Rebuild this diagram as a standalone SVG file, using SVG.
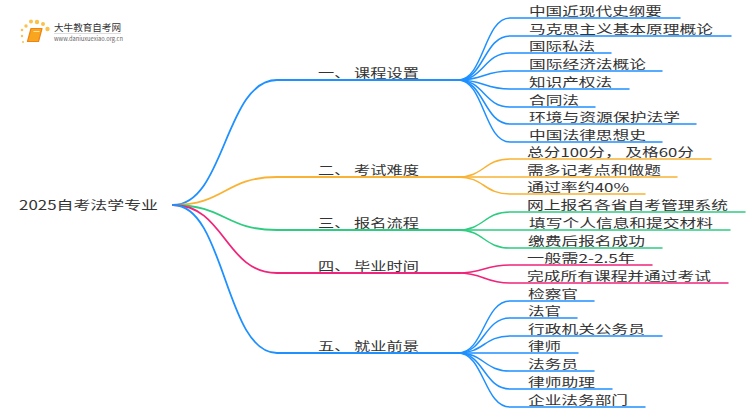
<svg xmlns="http://www.w3.org/2000/svg" width="750" height="410" viewBox="0 0 750 410">
<style>
text{font-family:"Noto Sans CJK SC","Liberation Sans",sans-serif;fill:#333;font-size:12px}
.c path{fill:none;stroke-linecap:round}
.m{stroke-width:1.8}
.l{stroke-width:1.5}
.b{stroke:#1e90ff}.o{stroke:#f9b233}.g{stroke:#2ecc80}.p{stroke:#f0247a}
</style>
<rect width="750" height="410" fill="#fff"/>
<g id="connectors" class="c">
<path class="m b" d="M173 205C225 205 225 80 277 80H460"/>
<path class="m o" d="M173 205C225 205 225 177 277 177H460"/>
<path class="m g" d="M173 205C225 205 225 230 277 230H460"/>
<path class="m p" d="M173 205C225 205 225 273 277 273H460"/>
<path class="m b" d="M173 205C225 205 225 353 277 353H460"/>
<path class="l b" d="M458 80C484 80 484 18 510 18H680"/>
<path class="l b" d="M458 80C484 80 484 36 510 36H731"/>
<path class="l b" d="M458 80C484 80 484 53 510 53H611"/>
<path class="l b" d="M458 80C484 80 484 71 510 71H662"/>
<path class="l b" d="M458 80C484 80 484 89 510 89H629"/>
<path class="l b" d="M458 80C484 80 484 107 510 107H595"/>
<path class="l b" d="M458 80C484 80 484 124 510 124H696"/>
<path class="l b" d="M458 80C484 80 484 142 510 142H662"/>
<path class="l o" d="M458 177C484 177 484 159 510 159H711"/>
<path class="l o" d="M458 177H677"/>
<path class="l o" d="M458 177C484 177 484 194 510 194H645"/>
<path class="l g" d="M458 230C484 230 484 212 510 212H745"/>
<path class="l g" d="M458 230H730"/>
<path class="l g" d="M458 230C484 230 484 248 510 248H662"/>
<path class="l p" d="M458 273C484 273 484 265 510 265H652"/>
<path class="l p" d="M458 273C484 273 484 283 510 283H728"/>
<path class="l b" d="M458 353C484 353 484 301 510 301H594"/>
<path class="l b" d="M458 353C484 353 484 318 510 318H577"/>
<path class="l b" d="M458 353C484 353 484 336 510 336H662"/>
<path class="l b" d="M458 353H578"/>
<path class="l b" d="M458 353C484 353 484 371 510 371H594"/>
<path class="l b" d="M458 353C484 353 484 389 510 389H612"/>
<path class="l b" d="M458 353C484 353 484 407 510 407H645"/>
</g>
<g id="logo">
<g fill="#fbc14a"><circle cx="37" cy="22" r="2.2"/><circle cx="31" cy="21.500" r="2"/><circle cx="43" cy="24" r="2"/><circle cx="47.500" cy="29" r="2.200"/><circle cx="26" cy="26" r="1.700"/><circle cx="22" cy="30" r="1.300"/><circle cx="22" cy="36" r="1.200"/><circle cx="23" cy="42" r="1"/></g>
<path d="M31 28.500H42L38.500 41.500H27.500Z" fill="#f8a51f" stroke="#ee8413" stroke-width="1.200" stroke-linejoin="round"/>
<path d="M33.500 31.500H39.500" stroke="#fde3a8" stroke-width="1"/>
<text x="54" y="31" textLength="67" lengthAdjust="spacingAndGlyphs" style="font-size:9.500px">大牛教育自考网</text>
<path d="M54 33.500H121" stroke="#ddd" stroke-width="1"/>
<text x="54" y="41" textLength="69" lengthAdjust="spacingAndGlyphs" style="font-size:6px;fill:#666">www.daniuxuexiao.org.cn</text>
</g>
<g id="root"><text x="19" y="210" textLength="139" lengthAdjust="spacingAndGlyphs" style="font-size:12.500px">2025自考法学专业</text></g>
<g id="n1"><text x="318" y="78" textLength="101" lengthAdjust="spacingAndGlyphs">一、 课程设置</text></g>
<g id="n2"><text x="318" y="175" textLength="101" lengthAdjust="spacingAndGlyphs">二、 考试难度</text></g>
<g id="n3"><text x="318" y="228" textLength="101" lengthAdjust="spacingAndGlyphs">三、 报名流程</text></g>
<g id="n4"><text x="318" y="271" textLength="101" lengthAdjust="spacingAndGlyphs">四、 毕业时间</text></g>
<g id="n5"><text x="318" y="351" textLength="101" lengthAdjust="spacingAndGlyphs">五、 就业前景</text></g>
<g id="n1-1"><text x="529" y="16" textLength="133" lengthAdjust="spacingAndGlyphs">中国近现代史纲要</text></g>
<g id="n1-2"><text x="529" y="34" textLength="184" lengthAdjust="spacingAndGlyphs">马克思主义基本原理概论</text></g>
<g id="n1-3"><text x="529" y="51" textLength="66" lengthAdjust="spacingAndGlyphs">国际私法</text></g>
<g id="n1-4"><text x="529" y="69" textLength="117" lengthAdjust="spacingAndGlyphs">国际经济法概论</text></g>
<g id="n1-5"><text x="529" y="87" textLength="83" lengthAdjust="spacingAndGlyphs">知识产权法</text></g>
<g id="n1-6"><text x="529" y="105" textLength="50" lengthAdjust="spacingAndGlyphs">合同法</text></g>
<g id="n1-7"><text x="529" y="122" textLength="151" lengthAdjust="spacingAndGlyphs">环境与资源保护法学</text></g>
<g id="n1-8"><text x="529" y="140" textLength="117" lengthAdjust="spacingAndGlyphs">中国法律思想史</text></g>
<g id="n2-1"><text x="527" y="157" textLength="167" lengthAdjust="spacingAndGlyphs">总分100分， 及格60分</text></g>
<g id="n2-2"><text x="527" y="175" textLength="134" lengthAdjust="spacingAndGlyphs">需多记考点和做题</text></g>
<g id="n2-3"><text x="527" y="192" textLength="102" lengthAdjust="spacingAndGlyphs">通过率约40%</text></g>
<g id="n3-1"><text x="527" y="210" textLength="201" lengthAdjust="spacingAndGlyphs">网上报名各省自考管理系统</text></g>
<g id="n3-2"><text x="529" y="228" textLength="184" lengthAdjust="spacingAndGlyphs">填写个人信息和提交材料</text></g>
<g id="n3-3"><text x="528" y="246" textLength="117" lengthAdjust="spacingAndGlyphs">缴费后报名成功</text></g>
<g id="n4-1"><text x="527" y="263" textLength="108" lengthAdjust="spacingAndGlyphs">一般需2-2.5年</text></g>
<g id="n4-2"><text x="527" y="281" textLength="184" lengthAdjust="spacingAndGlyphs">完成所有课程并通过考试</text></g>
<g id="n5-1"><text x="528" y="299" textLength="50" lengthAdjust="spacingAndGlyphs">检察官</text></g>
<g id="n5-2"><text x="528" y="316" textLength="33" lengthAdjust="spacingAndGlyphs">法官</text></g>
<g id="n5-3"><text x="528" y="334" textLength="117" lengthAdjust="spacingAndGlyphs">行政机关公务员</text></g>
<g id="n5-4"><text x="528" y="351" textLength="33" lengthAdjust="spacingAndGlyphs">律师</text></g>
<g id="n5-5"><text x="528" y="369" textLength="50" lengthAdjust="spacingAndGlyphs">法务员</text></g>
<g id="n5-6"><text x="528" y="387" textLength="67" lengthAdjust="spacingAndGlyphs">律师助理</text></g>
<g id="n5-7"><text x="528" y="405" textLength="100" lengthAdjust="spacingAndGlyphs">企业法务部门</text></g>
</svg>
